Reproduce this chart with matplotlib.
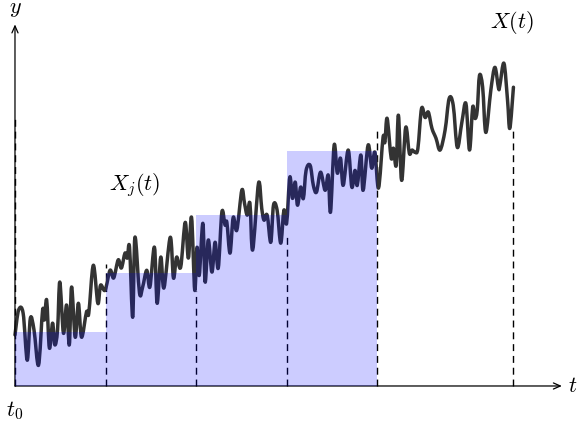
import numpy as np
import matplotlib

matplotlib.use("Agg")
import matplotlib.pyplot as plt
from matplotlib.path import Path
from matplotlib.patches import PathPatch

plt.rcParams["mathtext.fontset"] = "cm"

# sample path X(t) (turning points)
t_vals = [
    0.00, 0.08, 0.18, 0.27, 0.34, 0.42, 0.52, 0.61, 0.65, 0.70, 0.76, 0.83, 0.88, 0.94,
    0.99, 1.07, 1.14, 1.20, 1.25, 1.33, 1.40, 1.47, 1.58, 1.63, 1.73, 1.83, 1.89, 1.99,
    2.10, 2.18, 2.28, 2.35, 2.43, 2.48, 2.53, 2.60, 2.65, 2.75, 2.82, 2.91, 2.98, 3.08,
    3.14, 3.22, 3.29, 3.43, 3.50, 3.57, 3.66, 3.76, 3.83, 3.90, 3.97, 4.02,
    4.07, 4.15, 4.20, 4.27, 4.35, 4.42, 4.49, 4.57, 4.64, 4.68, 4.75, 4.82, 4.90, 5.01,
    5.07, 5.13, 5.19, 5.25, 5.38, 5.45, 5.50, 5.57, 5.65, 5.71, 5.79, 5.87, 5.94, 6.00,
    6.07, 6.13, 6.19, 6.24, 6.31, 6.37, 6.43, 6.52, 6.59, 6.66, 6.75, 6.85, 6.92, 6.97,
    7.05, 7.12, 7.19, 7.25, 7.36, 7.44, 7.51, 7.56, 7.64, 7.69, 7.80, 7.88, 7.95, 8.03,
    8.13, 8.17, 8.22, 8.31, 8.36, 8.42, 8.47, 8.54, 8.63, 8.71, 8.77, 8.84, 8.90, 8.98,
    9.06, 9.13, 9.21, 9.30, 9.39, 9.50, 9.59, 9.68, 9.77, 9.87, 9.96, 10.04, 10.11, 10.16,
    10.21, 10.26, 10.33, 10.40, 10.51, 10.60, 10.68, 10.71, 10.80, 10.88, 10.93, 11.01,
]
x_vals = [
    1.13, 1.68, 1.61, 0.57, 1.50, 1.24, 0.46, 1.68, 1.46, 1.90, 0.84, 1.39, 0.91, 1.24,
    2.30, 1.17, 1.79, 0.91, 2.19, 1.08, 1.83, 1.08, 1.64, 1.61, 2.67, 1.83, 2.23, 2.12,
    2.56, 2.39, 2.79, 2.61, 2.94, 2.83, 3.07, 1.52, 3.29, 2.06, 2.19, 2.56, 2.19, 3.07,
    1.83, 2.85, 2.17, 3.29, 2.39, 2.85, 2.63, 3.62, 2.83, 3.73, 2.12, 3.07,
    2.45, 3.60, 2.30, 3.23, 2.52, 3.18, 2.61, 3.85, 3.56, 3.62, 2.94, 3.73, 3.45, 4.33,
    4.04, 3.78, 4.04, 3.01, 4.49, 3.93, 3.67, 3.78, 3.18, 4.00, 3.89, 3.16, 3.89, 3.60,
    4.62, 4.15, 4.51, 4.00, 4.40, 4.15, 4.77, 4.88, 4.44, 4.29, 4.73, 4.33, 4.66, 3.85,
    5.33, 4.71, 5.04, 4.44, 5.22, 4.40, 4.77, 4.44, 5.11, 4.33, 5.33, 4.82, 5.17, 4.38,
    5.50, 5.39, 5.92, 5.04, 5.26, 4.88, 5.99, 4.55, 5.72, 5.15, 5.22, 5.17, 5.26, 6.14,
    5.94, 6.06, 5.70, 5.48, 5.22, 5.66, 6.36, 6.21, 5.28, 5.83, 6.25, 5.22, 6.17, 5.92,
    6.10, 6.87, 6.61, 5.61, 6.54, 7.05, 6.59, 6.65, 7.14, 6.32, 5.70, 6.61,
]

# piecewise-constant approximation X_j(t)
step_edges = [0, 2, 4, 6]
step_width = 2
step_levels = [1.19, 2.50, 3.78, 5.20]

# dashed markers
mark_t = [0, 2, 4, 6, 8, 11]
mark_top = [6.0, 2.7, 2.1, 3.3, 5.65, 5.7]


def smooth_path(xs, ys, tension=0.5):
    # Catmull-Rom style bezier through the given points
    pts = np.column_stack([xs, ys])
    verts = [pts[0]]
    codes = [Path.MOVETO]
    n = len(pts)
    for i in range(n - 1):
        p0 = pts[i - 1] if i > 0 else pts[i]
        p1, p2 = pts[i], pts[i + 1]
        p3 = pts[i + 2] if i + 2 < n else pts[i + 1]
        verts += [p1 + (p2 - p0) * tension / 3, p2 - (p3 - p1) * tension / 3, p2]
        codes += [Path.CURVE4] * 3
    return Path(verts, codes)


fig = plt.figure(figsize=(5.77, 4.32), dpi=100)
ax = fig.add_axes([0, 0, 1, 1])
ax.set_xlim(-0.331, 12.414)
ax.set_ylim(-1.018, 8.540)
ax.axis("off")

arrow = dict(arrowstyle="->,head_length=0.5,head_width=0.22", lw=0.9, color="black",
             shrinkA=0, shrinkB=0)
ax.annotate("", xy=(12.08, 0), xytext=(0, 0), arrowprops=arrow)
ax.annotate("", xy=(0, 8.0), xytext=(0, 0), arrowprops=arrow)

ax.vlines(mark_t, 0, mark_top, colors="black", linestyles=(0, (5, 3.5)), lw=1.0, zorder=1)

ax.add_patch(PathPatch(smooth_path(t_vals, x_vals), fill=False, edgecolor="#333333",
                       lw=2.5, capstyle="round", joinstyle="round", zorder=2))

ax.bar(step_edges, step_levels, width=step_width, align="edge", color="blue", alpha=0.2,
       linewidth=0, zorder=3)

fs = 16
ax.text(0, 8.12, r"$y$", fontsize=fs, ha="center", va="bottom")
ax.text(12.22, 0, r"$t$", fontsize=fs, ha="left", va="center")
ax.text(0, -0.3, r"$t_0$", fontsize=fs, ha="center", va="top")
ax.text(10.98, 8.05, r"$X(t)$", fontsize=fs, ha="center", va="center")
ax.text(2.65, 4.45, r"$X_j(t)$", fontsize=fs, ha="center", va="center")

fig.savefig("out.png", dpi=100)
plt.close(fig)
